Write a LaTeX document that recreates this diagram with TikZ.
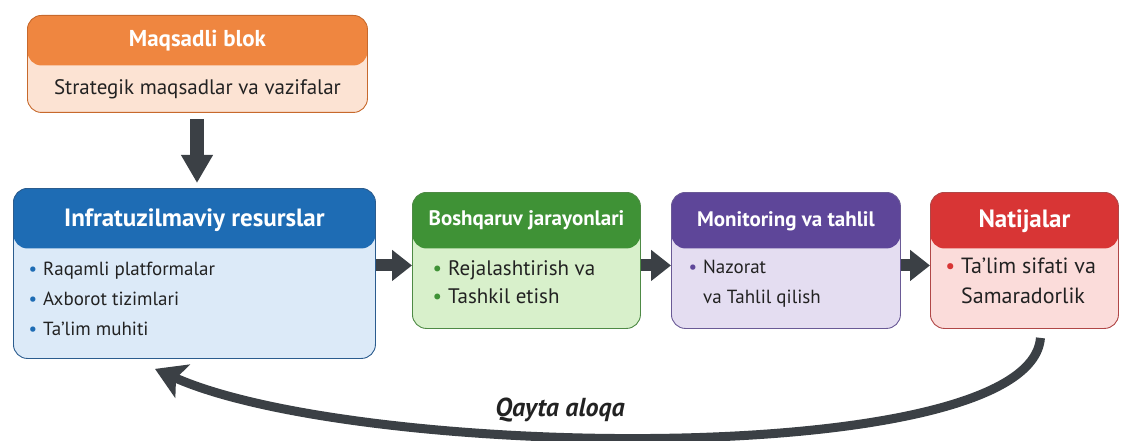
\documentclass[tikz,border=0pt]{standalone}
\usepackage{fontspec}
\setmainfont{PT Sans}
\usetikzlibrary{arrows.meta,positioning}

\definecolor{orgHd}{HTML}{EF8640}
\definecolor{orgBd}{HTML}{FCE3D3}
\definecolor{orgLn}{HTML}{C7692C}
\definecolor{bluHd}{HTML}{1E6CB4}
\definecolor{bluBd}{HTML}{DCEAF8}
\definecolor{bluLn}{HTML}{2B5C8E}
\definecolor{grnHd}{HTML}{3F9236}
\definecolor{grnBd}{HTML}{D8F0CB}
\definecolor{grnLn}{HTML}{4E8A45}
\definecolor{prpHd}{HTML}{5E4699}
\definecolor{prpBd}{HTML}{E4DDF1}
\definecolor{prpLn}{HTML}{6A5A96}
\definecolor{redHd}{HTML}{D83535}
\definecolor{redBd}{HTML}{FBDCDA}
\definecolor{redLn}{HTML}{B04747}
\definecolor{arrGr}{HTML}{3B4045}
\definecolor{txtDk}{HTML}{222222}

\newcommand{\bul}[1]{\llap{\textcolor{#1}{\textbullet}\hspace{6pt}}}

\tikzset{
  blk/.style n args={4}{draw=#2, line width=0.9pt, fill=#3, rounded corners=14pt,
    anchor=north west, inner sep=0pt,
    path picture={\fill[#1] (path picture bounding box.north west)
      rectangle ([yshift=-#4]path picture bounding box.north east);}},
  ttl/.style={text=white, font=\fontsize{25}{30}\selectfont\bfseries},
  ttlsm/.style={text=white, font=\fontsize{21}{25}\selectfont\bfseries},
  itm/.style={text=txtDk, align=left, anchor=north west, inner sep=0pt,
    font=\fontsize{19}{30}\selectfont},
  itmlg/.style={itm, font=\fontsize{21}{28}\selectfont},
  flow/.style={draw=arrGr, line width=12pt, -{Triangle[length=20pt,width=30pt]}},
}

\begin{document}
\begin{tikzpicture}[x=1pt,y=-1pt]
  \useasboundingbox (0,0) rectangle (1130,441);

  % goal block
  \node[blk={orgHd}{orgLn}{orgBd}{50pt}, minimum width=340pt, minimum height=97pt] (goal) at (27,15) {};
  \node[ttl, font=\fontsize{23}{27}\selectfont\bfseries] (goalT) at ([yshift=-26pt]goal.north) {Maqsadli blok};
  \node[text=txtDk, font=\fontsize{21}{25}\selectfont] (goalB) at ([yshift=-74pt]goal.north) {Strategik maqsadlar va vazifalar};

  % process blocks
  \node[blk={bluHd}{bluLn}{bluBd}{60pt}, minimum width=362pt, minimum height=170pt] (infra) at (13,188) {};
  \node[ttl] (infraT) at ([yshift=-32pt]infra.north) {Infratuzilmaviy resurslar};
  \node[itm] (infraL) at (43,262) {\bul{bluHd}Raqamli platformalar\\ \bul{bluHd}Axborot tizimlari\\ \bul{bluHd}Ta’lim muhiti};

  \node[blk={grnHd}{grnLn}{grnBd}{56pt}, minimum width=228pt, minimum height=136pt] (boshq) at (412,192) {};
  \node[ttlsm] (boshqT) at ([yshift=-28pt]boshq.north) {Boshqaruv jarayonlari};
  \node[itmlg] (boshqL) at (448,260) {\bul{grnHd}Rejalashtirish va\\ \bul{grnHd}Tashkil etish};

  \node[blk={prpHd}{prpLn}{prpBd}{56pt}, minimum width=229pt, minimum height=136pt] (monit) at (671,192) {};
  \node[ttlsm] (monitT) at ([yshift=-29pt]monit.north) {Monitoring va tahlil};
  \node[itm] (monitL) at (703,260) {\bul{prpHd}Nazorat\\ va Tahlil qilish};

  \node[blk={redHd}{redLn}{redBd}{56pt}, minimum width=188pt, minimum height=136pt] (natij) at (930,192) {};
  \node[ttl] (natijT) at ([yshift=-29pt]natij.north) {Natijalar};
  \node[itmlg, font=\fontsize{22}{30}\selectfont] (natijL) at (961,258) {\bul{redHd}Ta’lim sifati va\\ Samaradorlik};

  % connectors
  \draw[flow, line width=14pt, -{Triangle[length=28pt,width=30pt]}, shorten <=6pt, shorten >=5pt] (goal.south -| 197,0) -- (infra.north -| 197,0);
  \draw[flow] ([yshift=8pt]infra.east) -- ([yshift=-5pt]boshq.west);
  \draw[flow] ([yshift=-5pt]boshq.east) -- ([yshift=-5pt]monit.west);
  \draw[flow] ([yshift=-5pt]monit.east) -- ([yshift=-5pt]natij.west);

  % feedback loop
  \coordinate (fbA) at ([xshift=16pt,yshift=-9pt]natij.south);
  \coordinate (fbB) at ([xshift=142pt,yshift=-10pt]infra.south west);
  \draw[draw=arrGr, line width=9pt, -{Stealth[length=30pt,width=36pt,inset=7pt]}]
    (fbA) .. controls (1030,470) and (360,460) .. (fbB);
  \node[text=txtDk, font=\fontsize{26}{30}\selectfont\bfseries\itshape] (fbT) at (560,410) {Qayta aloqa};
\end{tikzpicture}
\end{document}
